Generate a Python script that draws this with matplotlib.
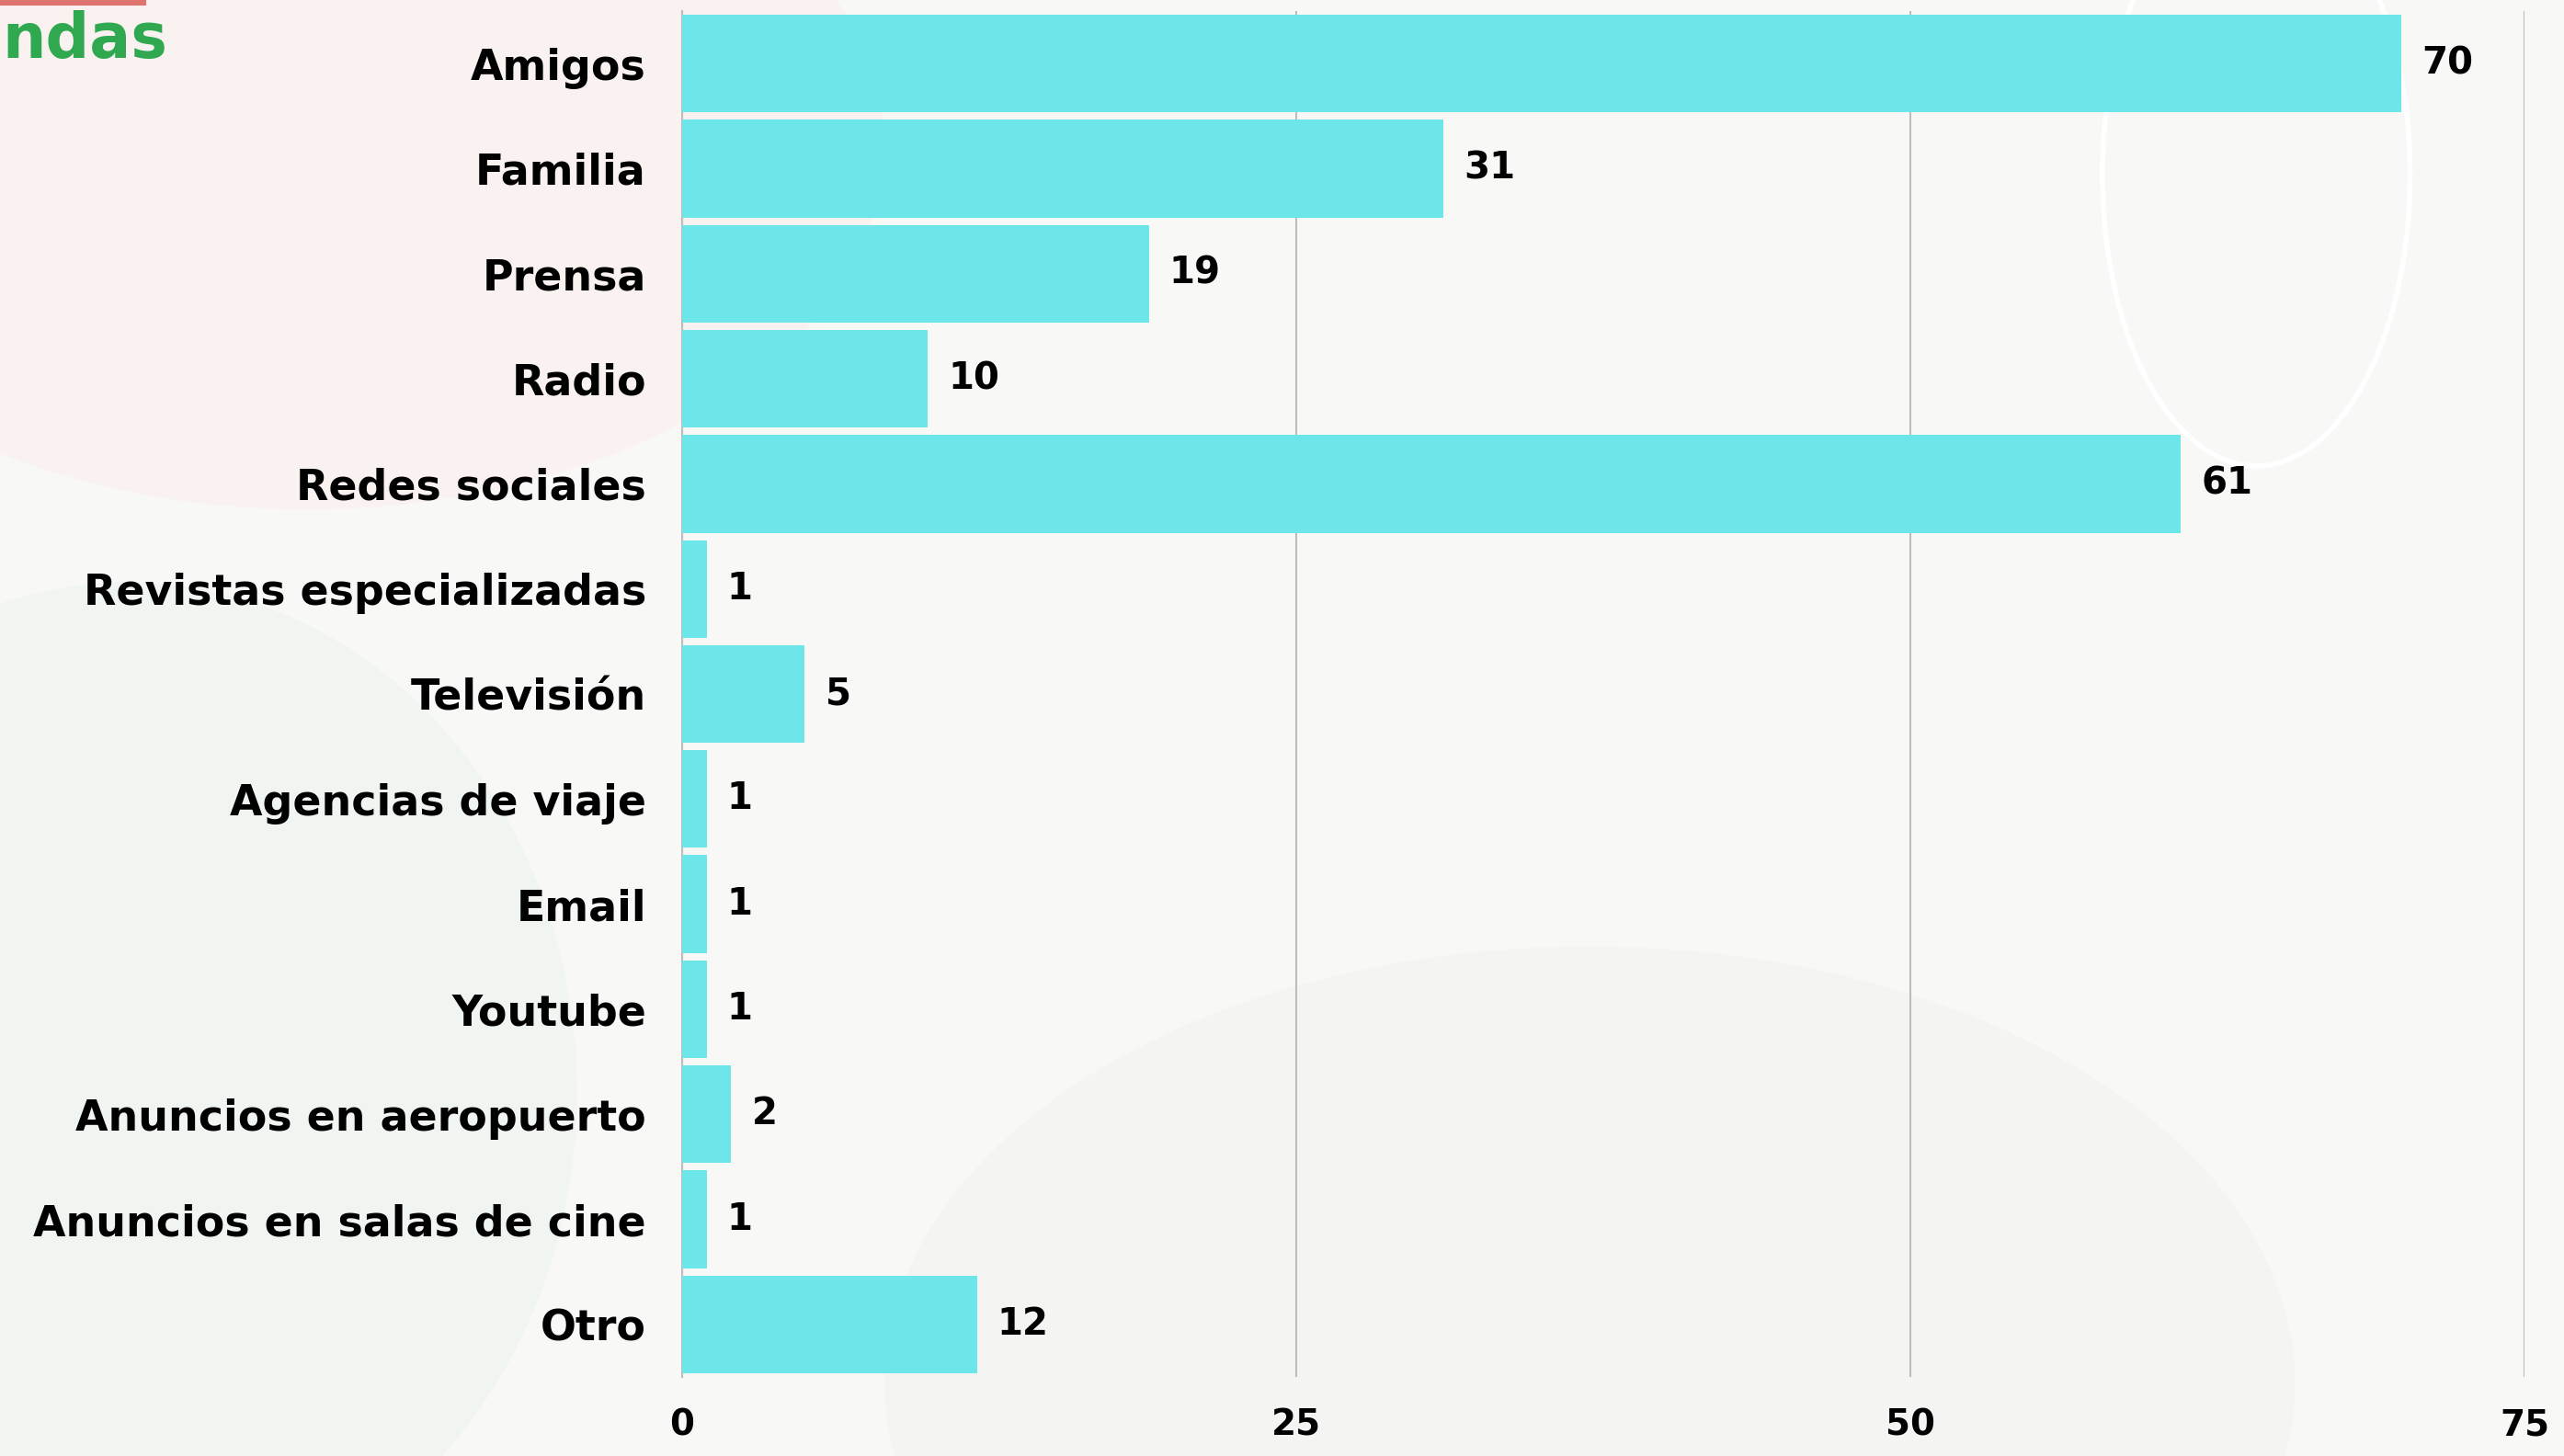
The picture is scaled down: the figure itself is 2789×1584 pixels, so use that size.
import matplotlib.pyplot as plt
import numpy as np
from matplotlib.patches import Ellipse

# Data
categories = ['Amigos', 'Familia', 'Prensa', 'Radio', 'Redes sociales',
              'Revistas especializadas', 'Televisión', 'Agencias de viaje',
              'Email', 'Youtube', 'Anuncios en aeropuerto',
              'Anuncios en salas de cine', 'Otro']
counts = [70, 31, 19, 10, 61, 1, 5, 1, 1, 1, 2, 1, 12]
x_ticks = [0, 25, 50, 75]

bar_color = '#6ce6e9'
font = 'DejaVu Sans'

fig = plt.figure(figsize=(27.89, 15.84), dpi=100)
fig.patch.set_facecolor('#f8f8f6')

# faint decorative background
bg = fig.add_axes([0, 0, 1, 1], zorder=-1)
bg.set_xlim(0, 1)
bg.set_ylim(0, 1)
bg.axis('off')
bg.add_patch(Ellipse((0.12, 0.9), 0.45, 0.5, color='#fbefef', alpha=0.6, lw=0))
bg.add_patch(Ellipse((0.05, 0.25), 0.35, 0.7, color='#eff4f0', alpha=0.7, lw=0))
bg.add_patch(Ellipse((0.62, 0.05), 0.55, 0.6, color='#f3f5f2', alpha=0.7, lw=0))
bg.add_patch(Ellipse((0.88, 0.88), 0.12, 0.4, fill=False, ec='white', lw=4))
bg.text(0.001, 0.972, 'ndas', fontsize=48, fontweight='bold', color='#2fa84f',
        ha='left', va='center', family=font)
bg.plot([0, 0.055], [1.0, 1.0], color='#d9534f', lw=8, alpha=0.8)

ax = fig.add_axes([0.266, 0.0543, 0.7186, 0.9381])
ax.set_facecolor('none')

y = np.arange(len(categories))
bars = ax.barh(y, counts, height=0.93, color=bar_color, zorder=3)

for bar, val in zip(bars, counts):
    ax.annotate(str(val),
                xy=(bar.get_width(), bar.get_y() + bar.get_height() / 2),
                xytext=(16, 0), textcoords='offset points',
                ha='left', va='center', fontsize=29, fontweight='bold',
                family=font, color='black')

ax.set_xlim(0, 75)
ax.set_ylim(len(categories) - 0.5, -0.5)
ax.set_yticks(y)
ax.set_yticklabels(categories, fontsize=33, fontweight='bold', family=font)
ax.set_xticks(x_ticks)
ax.set_xticklabels([str(t) for t in x_ticks], fontsize=28, fontweight='bold', family=font)
ax.tick_params(axis='both', length=0)
ax.tick_params(axis='y', pad=28)
ax.tick_params(axis='x', pad=24)

ax.xaxis.grid(True, color='#bdbdbd', linewidth=1.5)
ax.set_axisbelow(True)
for side in ['top', 'right', 'bottom']:
    ax.spines[side].set_visible(False)
ax.spines['left'].set_color('#bdbdbd')
ax.spines['left'].set_linewidth(1.5)

fig.savefig('out.png', dpi=100)
